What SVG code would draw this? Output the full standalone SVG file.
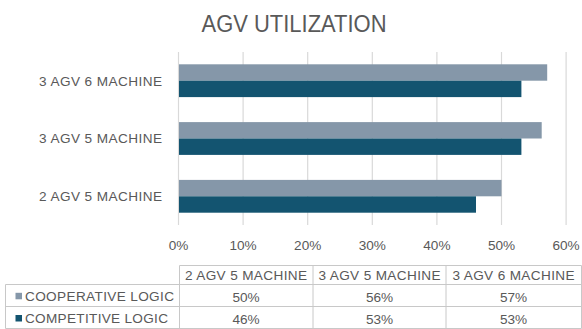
<svg xmlns="http://www.w3.org/2000/svg" width="582" height="329" viewBox="0 0 582 329">
<style>
text{font-family:"Liberation Sans",Arial,sans-serif;fill:#595959}
.t{font-size:23px}
.l{font-size:13.6px}
.c{text-anchor:middle}
.e{text-anchor:end}
.grid{stroke:#D9D9D9;stroke-width:1.2}
.coop{fill:#8597A9}
.comp{fill:#135470}
.tb{stroke:#C8C8C8;stroke-width:1;fill:none}
</style>
<rect width="582" height="329" fill="#FFFFFF"/>
<g id="title"><text class="t c" x="294" y="31.5" textLength="185" lengthAdjust="spacingAndGlyphs">AGV UTILIZATION</text></g>
<g id="gridlines">
<line class="grid" x1="178.5" y1="52" x2="178.5" y2="225"/>
<line class="grid" x1="243.1" y1="52" x2="243.1" y2="225"/>
<line class="grid" x1="307.7" y1="52" x2="307.7" y2="225"/>
<line class="grid" x1="372.3" y1="52" x2="372.3" y2="225"/>
<line class="grid" x1="436.9" y1="52" x2="436.9" y2="225"/>
<line class="grid" x1="501.5" y1="52" x2="501.5" y2="225"/>
<line class="grid" x1="566.1" y1="52" x2="566.1" y2="225"/>
</g>
<g id="axis-labels">
<text class="l c" x="178.5" y="250">0%</text>
<text class="l c" x="243.1" y="250">10%</text>
<text class="l c" x="307.7" y="250">20%</text>
<text class="l c" x="372.3" y="250">30%</text>
<text class="l c" x="436.9" y="250">40%</text>
<text class="l c" x="501.5" y="250">50%</text>
<text class="l c" x="566.1" y="250">60%</text>
</g>
<g id="cat-3agv6">
<text class="l e" x="162" y="85.5" textLength="123" lengthAdjust="spacing">3 AGV 6 MACHINE</text>
<rect class="coop" x="179" y="64.3" width="368.2" height="16.4"/>
<rect class="comp" x="179" y="80.7" width="342.4" height="16.4"/>
</g>
<g id="cat-3agv5">
<text class="l e" x="162" y="143.3" textLength="123" lengthAdjust="spacing">3 AGV 5 MACHINE</text>
<rect class="coop" x="179" y="122.1" width="362.7" height="16.4"/>
<rect class="comp" x="179" y="138.5" width="342.4" height="16.4"/>
</g>
<g id="cat-2agv5">
<text class="l e" x="162" y="201.1" textLength="123" lengthAdjust="spacing">2 AGV 5 MACHINE</text>
<rect class="coop" x="179" y="179.9" width="322.5" height="16.4"/>
<rect class="comp" x="179" y="196.3" width="297" height="16.4"/>
</g>
<g id="data-table">
<path class="tb" d="M179.5 265.5H581.5V328.5H5.5V284.5H581.5M5.5 306.5H581.5M179.5 265.5V328.5M313 265.5V328.5M446 265.5V328.5"/>
<text class="l c" x="246" y="280" textLength="122" lengthAdjust="spacing">2 AGV 5 MACHINE</text>
<text class="l c" x="379.5" y="280" textLength="122" lengthAdjust="spacing">3 AGV 5 MACHINE</text>
<text class="l c" x="513.5" y="280" textLength="122" lengthAdjust="spacing">3 AGV 6 MACHINE</text>
<rect class="coop" x="15.5" y="292.8" width="6.5" height="6.5"/>
<text class="l" x="25" y="301" textLength="149" lengthAdjust="spacing">COOPERATIVE LOGIC</text>
<rect class="comp" x="15.5" y="315" width="6.5" height="6.5"/>
<text class="l" x="25" y="323" textLength="143" lengthAdjust="spacing">COMPETITIVE LOGIC</text>
<text class="l c" x="246" y="301.5">50%</text>
<text class="l c" x="379.5" y="301.5">56%</text>
<text class="l c" x="513.5" y="301.5">57%</text>
<text class="l c" x="246" y="323.5">46%</text>
<text class="l c" x="379.5" y="323.5">53%</text>
<text class="l c" x="513.5" y="323.5">53%</text>
</g>
</svg>
